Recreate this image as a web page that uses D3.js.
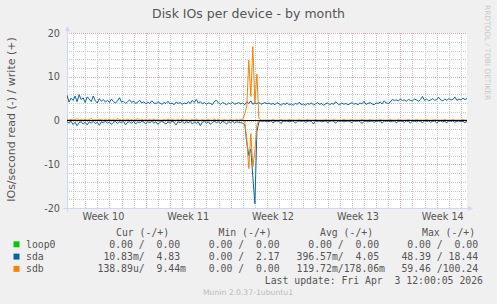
<!DOCTYPE html>
<html>
<head>
<meta charset="utf-8">
<script src="https://cdn.jsdelivr.net/npm/d3@7"></script>
<style>
body { margin: 0; background: #f0f0f0; }
svg { display: block; }
text { font-family: "DejaVu Sans", sans-serif; fill: #555; }
.mono { font-family: "DejaVu Sans Mono", monospace; font-size: 9.8px; white-space: pre; }
</style>
</head>
<body>
<div id="chart"></div>
<script>
// time range of the "month" graph (33 days), one sample every 4 hours
const startTime = Date.UTC(2026, 2, 1, 12);
const endTime = Date.UTC(2026, 3, 3, 12);
const stepHours = 4;

const yTicks = [-20, -10, 0, 10, 20];
const weekLabels = ["Week 10", "Week 11", "Week 12", "Week 13", "Week 14"];
const weekCenters = ["2026-03-04T12:00Z", "2026-03-11T12:00Z", "2026-03-18T12:00Z", "2026-03-25T12:00Z", "2026-04-01T12:00Z"];

// write (+) and read (-) rates, IOs/second
const sdaWrite = [
  5.8, 4.2, 5.1, 4.6, 5.6, 4.3, 5.9, 4.8, 5.2, 4.1, 5.4, 4.9, 4.3, 5.6, 4.5, 4.0, 5.0, 4.4, 4.8, 4.2,
  4.6, 4.1, 4.9, 4.3, 4.0, 4.5, 5.2, 4.2, 4.4, 3.9, 4.3, 4.7, 4.1, 4.4, 3.9, 4.2, 4.6, 4.0, 4.3, 3.8,
  4.2, 3.9, 4.5, 4.0, 3.8, 4.3, 4.0, 3.7, 4.1, 3.9, 4.4, 3.8, 4.0, 3.6, 4.2, 3.9, 4.1, 3.7, 4.0, 3.8,
  4.3, 3.9, 4.6, 4.1, 4.8, 4.0, 4.3, 3.8, 4.1, 3.7, 4.0, 3.9, 3.6, 4.4, 4.6, 4.0, 3.7, 4.1, 3.9, 3.6,
  4.0, 3.8, 4.2, 3.7, 3.9, 4.1, 3.8, 4.0, 3.6, 4.3, 3.9, 4.5, 3.7, 4.0, 3.8, 4.2, 3.7, 3.9, 4.1, 3.8,
  4.0, 3.7, 3.9, 3.6, 4.1, 3.8, 3.5, 3.9, 3.7, 4.0, 3.6, 3.8, 3.5, 3.9, 3.7, 4.2, 3.6, 3.8, 3.5, 3.9,
  3.7, 4.0, 3.6, 3.8, 4.1, 3.7, 3.9, 3.5, 3.8, 4.0, 3.6, 3.9, 3.7, 4.3, 3.8, 3.6, 4.0, 3.7, 3.9, 3.6,
  3.8, 4.1, 3.7, 3.9, 3.6, 4.0, 3.8, 4.4, 3.7, 3.9, 4.1, 3.8, 3.6, 4.0, 3.9, 4.2, 3.8, 4.5, 4.0, 3.9,
  4.2, 4.8, 4.6, 4.7, 4.5, 4.9, 4.6, 4.7, 4.4, 4.8, 4.6, 4.5, 4.9, 4.7, 4.4, 4.8, 5.5, 4.6, 4.9, 4.5,
  4.7, 5.0, 4.6, 4.8, 5.3, 4.7, 4.5, 4.9, 4.6, 5.0, 4.7, 4.8, 5.4, 4.6, 4.9, 4.7, 5.1, 4.8, 5.0
];
const sdaRead = [
  0.3, 0.6, 0.2, 0.9, 0.4, 1.2, 0.5, 0.3, 0.8, 0.4, 1.0, 0.3, 0.6, 0.2, 0.7, 0.4, 1.1, 0.3, 0.5, 0.2,
  0.6, 0.3, 0.9, 0.4, 0.2, 0.7, 0.3, 0.5, 0.2, 1.0, 0.4, 0.3, 0.6, 0.2, 0.8, 0.3, 0.5, 0.2, 0.4, 0.7,
  0.3, 0.5, 0.2, 0.6, 0.3, 0.9, 0.4, 0.2, 0.5, 0.8, 0.3, 0.6, 0.2, 0.4, 1.0, 0.3, 0.5, 0.2, 0.7, 0.3,
  0.5, 0.2, 0.8, 0.4, 0.6, 0.3, 1.2, 0.4, 0.2, 0.6, 0.3, 0.9, 0.4, 0.2, 0.5, 0.3, 0.7, 0.2, 0.4, 0.8,
  0.3, 0.5, 0.2, 0.6, 0.3, 0.4, 0.5, 0.6, 1.0, 5.0, 8.0, 6.5, 13.0, 19.0, 2.5, 0.3, 0.1, 0.2, 0.1, 0.3,
  0.2, 0.1, 0.5, 0.2, 0.1, 0.2, 0.7, 0.1, 0.2, 0.1, 0.3, 0.2, 0.1, 0.6, 0.2, 0.1, 0.2, 0.1, 0.4, 0.2,
  0.1, 0.2, 0.8, 0.1, 0.2, 0.1, 0.3, 0.2, 0.1, 0.5, 0.2, 0.1, 0.2, 0.6, 0.1, 0.2, 0.1, 0.3, 0.2, 0.1,
  0.2, 0.5, 0.1, 0.2, 0.1, 0.2, 0.7, 0.2, 0.1, 0.3, 0.2, 0.1, 0.4, 0.2, 0.1, 0.2, 0.6, 0.1, 0.2, 0.1,
  0.3, 0.2, 0.1, 0.5, 0.2, 0.1, 0.2, 0.4, 0.1, 0.2, 0.6, 0.1, 0.2, 0.3, 0.1, 0.2, 0.5, 0.1, 0.2, 0.1,
  0.4, 0.2, 0.1, 0.6, 0.2, 0.1, 0.3, 0.2, 0.5, 0.1, 0.2, 0.1, 0.4, 0.2, 0.1, 0.3, 0.2, 0.5, 0.2
];
const sdbWrite = [
  0.2, 0.1, 0.3, 0.1, 0.2, 0.4, 0.1, 0.2, 0.1, 0.3, 0.1, 0.2, 0.5, 0.1, 0.2, 0.1, 0.3, 0.2, 0.1, 0.2,
  0.1, 0.3, 0.1, 0.2, 0.1, 0.4, 0.2, 0.1, 0.2, 0.1, 0.3, 0.1, 0.2, 0.1, 0.2, 0.4, 0.1, 0.2, 0.1, 0.2,
  0.1, 0.2, 0.1, 0.3, 0.1, 0.2, 0.1, 0.1, 0.2, 0.1, 0.3, 0.1, 0.2, 0.1, 0.1, 0.2, 0.1, 0.3, 0.1, 0.2,
  0.1, 0.1, 0.2, 0.1, 0.3, 0.1, 0.1, 0.2, 0.1, 0.1, 0.2, 0.1, 0.1, 0.3, 0.1, 0.2, 0.1, 0.1, 0.2, 0.1,
  0.1, 0.2, 0.1, 0.1, 0.2, 0.1, 0.2, 0.3, 1.5, 3.3, 13.8, 5.5, 16.9, 4.0, 10.6, 0.5, 0.1, 0.1, 0.1, 0.1,
  0.1, 0.1, 0.2, 0.1, 0.1, 0.1, 0.2, 0.1, 0.1, 0.1, 0.2, 0.1, 0.1, 0.1, 0.1, 0.2, 0.1, 0.1, 0.1, 0.2,
  0.1, 0.1, 0.1, 0.2, 0.1, 0.1, 0.1, 0.1, 0.2, 0.1, 0.1, 0.1, 0.2, 0.1, 0.1, 0.1, 0.1, 0.2, 0.1, 0.1,
  0.1, 0.2, 0.1, 0.1, 0.1, 0.1, 0.2, 0.1, 0.1, 0.1, 0.2, 0.1, 0.1, 0.1, 0.1, 0.2, 0.1, 0.1, 0.1, 0.1,
  0.2, 0.1, 0.1, 0.1, 0.2, 0.1, 0.1, 0.1, 0.1, 0.2, 0.1, 0.1, 0.1, 0.2, 0.1, 0.1, 0.1, 0.1, 0.2, 0.1,
  0.1, 0.1, 0.2, 0.1, 0.1, 0.1, 0.1, 0.2, 0.1, 0.1, 0.1, 0.2, 0.1, 0.1, 0.1, 0.1, 0.2, 0.1, 0.1
];
const sdbRead = [
  0, 0, 0, 0, 0, 0, 0, 0, 0, 0, 0, 0, 0, 0, 0, 0, 0, 0, 0, 0,
  0, 0, 0, 0, 0, 0, 0, 0, 0, 0, 0, 0, 0, 0, 0, 0, 0, 0, 0, 0,
  0, 0, 0, 0, 0, 0, 0, 0, 0, 0, 0, 0, 0, 0, 0, 0, 0, 0, 0, 0,
  0, 0, 0, 0, 0, 0, 0, 0, 0, 0, 0, 0, 0, 0, 0, 0, 0, 0, 0, 0,
  0, 0, 0, 0, 0, 0, 0, 0, 0.3, 4.5, 11.0, 3.0, 10.6, 7.0, 1.0, 0.1, 0, 0, 0, 0,
  0, 0, 0, 0, 0, 0, 0, 0, 0, 0, 0, 0, 0, 0, 0, 0, 0, 0, 0, 0,
  0, 0, 0, 0, 0, 0, 0, 0, 0, 0, 0, 0, 0, 0, 0, 0, 0, 0, 0, 0,
  0, 0, 0, 0, 0, 0, 0, 0, 0, 0, 0, 0, 0, 0, 0, 0, 0, 0, 0, 0,
  0, 0, 0, 0, 0, 0, 0, 0, 0, 0, 0, 0, 0, 0, 0, 0, 0, 0, 0, 0,
  0, 0, 0, 0, 0, 0, 0, 0, 0, 0, 0, 0, 0, 0, 0, 0, 0, 0, 0
];
// loop0 reads and writes are zero throughout
const loop0 = [
  0, 0, 0, 0, 0, 0, 0, 0, 0, 0, 0, 0, 0, 0, 0, 0, 0, 0, 0, 0,
  0, 0, 0, 0, 0, 0, 0, 0, 0, 0, 0, 0, 0, 0, 0, 0, 0, 0, 0, 0,
  0, 0, 0, 0, 0, 0, 0, 0, 0, 0, 0, 0, 0, 0, 0, 0, 0, 0, 0, 0,
  0, 0, 0, 0, 0, 0, 0, 0, 0, 0, 0, 0, 0, 0, 0, 0, 0, 0, 0, 0,
  0, 0, 0, 0, 0, 0, 0, 0, 0, 0, 0, 0, 0, 0, 0, 0, 0, 0, 0, 0,
  0, 0, 0, 0, 0, 0, 0, 0, 0, 0, 0, 0, 0, 0, 0, 0, 0, 0, 0, 0,
  0, 0, 0, 0, 0, 0, 0, 0, 0, 0, 0, 0, 0, 0, 0, 0, 0, 0, 0, 0,
  0, 0, 0, 0, 0, 0, 0, 0, 0, 0, 0, 0, 0, 0, 0, 0, 0, 0, 0, 0,
  0, 0, 0, 0, 0, 0, 0, 0, 0, 0, 0, 0, 0, 0, 0, 0, 0, 0, 0, 0,
  0, 0, 0, 0, 0, 0, 0, 0, 0, 0, 0, 0, 0, 0, 0, 0, 0, 0, 0
];

// legend
const devices = ["loop0", "sda", "sdb"];
const deviceColors = ["#00cc00", "#0066b3", "#ff8000"];
const colHeads = ["Cur (-/+)", "Min (-/+)", "Avg (-/+)", "Max (-/+)"];
const curText = ["  0.00 /  0.00 ", " 10.83m/  4.83 ", "138.89u/  9.44m"];
const minText = ["  0.00 /  0.00 ", "  0.00 /  2.17 ", "  0.00 /  0.00 "];
const avgText = ["  0.00 /  0.00 ", "396.57m/  4.05 ", "119.72m/178.06m"];
const maxText = ["  0.00 /  0.00 ", " 48.39 / 18.44 ", " 59.46 /100.24 "];
const lastUpdate = "Last update: Fri Apr  3 12:00:05 2026";

const width = 497, height = 304;
const plotLeft = 67, plotRight = 467, plotTop = 33, plotBottom = 208;

const svg = d3.select('#chart').append('svg')
    .attr('width', width)
    .attr('height', height);

svg.append('rect').attr('width', width).attr('height', height).attr('fill', '#f0f0f0');
svg.append('rect')
    .attr('x', plotLeft).attr('y', plotTop)
    .attr('width', plotRight - plotLeft).attr('height', plotBottom - plotTop)
    .attr('fill', '#ffffff');

const x = d3.scaleUtc().domain([startTime, endTime]).range([plotLeft, plotRight]);
const y = d3.scaleLinear().domain([-20, 20]).range([plotBottom, plotTop]);

const times = sdaWrite.map((d, i) => new Date(startTime + i * stepHours * 3600e3));

// grid
const grid = svg.append('g');
const minorY = y.ticks(20).filter(v => !yTicks.includes(v));
grid.selectAll('.hmin').data(minorY).enter().append('line')
    .attr('x1', plotLeft).attr('x2', plotRight)
    .attr('y1', d => Math.round(y(d)) + 0.5).attr('y2', d => Math.round(y(d)) + 0.5)
    .attr('stroke', '#c8c8c8').attr('stroke-dasharray', '1,1');
const days = d3.utcDay.range(new Date(startTime), new Date(endTime));
const sundays = d3.utcSunday.range(new Date(startTime), new Date(endTime));
const minorX = days.filter(d => d.getUTCDay() !== 0);
grid.selectAll('.vmin').data(minorX).enter().append('line')
    .attr('y1', plotTop).attr('y2', plotBottom)
    .attr('x1', d => Math.round(x(d)) + 0.5).attr('x2', d => Math.round(x(d)) + 0.5)
    .attr('stroke', '#c8c8c8').attr('stroke-dasharray', '1,1');
grid.selectAll('.hmaj').data(yTicks).enter().append('line')
    .attr('x1', plotLeft).attr('x2', plotRight)
    .attr('y1', d => Math.round(y(d)) + 0.5).attr('y2', d => Math.round(y(d)) + 0.5)
    .attr('stroke', '#eca0a0').attr('stroke-dasharray', '1,1');
grid.selectAll('.vmaj').data(sundays).enter().append('line')
    .attr('y1', plotTop).attr('y2', plotBottom)
    .attr('x1', d => Math.round(x(d)) + 0.5).attr('x2', d => Math.round(x(d)) + 0.5)
    .attr('stroke', '#eca0a0').attr('stroke-dasharray', '1,1');

// axes
const axisColor = '#cfd6f8';
svg.append('line')
    .attr('x1', plotLeft - 4).attr('x2', plotRight + 2)
    .attr('y1', plotBottom + 0.5).attr('y2', plotBottom + 0.5)
    .attr('stroke', axisColor);
svg.append('path')
    .attr('d', `M${plotRight + 6},${plotBottom + 0.5} L${plotRight + 1},${plotBottom - 2} L${plotRight + 1},${plotBottom + 3} Z`)
    .attr('fill', axisColor);
svg.append('line')
    .attr('x1', plotLeft + 0.5).attr('x2', plotLeft + 0.5)
    .attr('y1', plotBottom + 4).attr('y2', plotTop - 2)
    .attr('stroke', axisColor);
svg.append('path')
    .attr('d', `M${plotLeft + 0.5},${plotTop - 7} L${plotLeft - 2},${plotTop - 2} L${plotLeft + 3},${plotTop - 2} Z`)
    .attr('fill', axisColor);

// series
svg.append('clipPath').attr('id', 'plotclip')
    .append('rect').attr('x', plotLeft).attr('y', plotTop - 1)
    .attr('width', plotRight - plotLeft).attr('height', plotBottom - plotTop + 2);

const line = d3.line()
    .x((d, i) => x(times[i]))
    .y(d => y(d));

const series = [
  { write: loop0, read: loop0, color: deviceColors[0] },
  { write: sdaWrite, read: sdaRead, color: deviceColors[1] },
  { write: sdbWrite, read: sdbRead, color: deviceColors[2] }
];
const plotG = svg.append('g').attr('clip-path', 'url(#plotclip)');
series.forEach(s => {
    plotG.append('path')
        .attr('d', line(s.read.map(v => -v)))
        .attr('fill', 'none').attr('stroke', s.color).attr('stroke-width', 1);
    plotG.append('path')
        .attr('d', line(s.write))
        .attr('fill', 'none').attr('stroke', s.color).attr('stroke-width', 1);
});
plotG.append('line')
    .attr('x1', plotLeft).attr('x2', plotRight)
    .attr('y1', y(0)).attr('y2', y(0))
    .attr('stroke', '#000').attr('stroke-width', 1.2);

// tick labels
svg.selectAll('.ylab').data(yTicks).enter().append('text')
    .attr('x', 60).attr('y', d => y(d) + 3.5)
    .attr('text-anchor', 'end')
    .style('font-size', '9.7px')
    .text(d => d);
svg.selectAll('.xlab').data(weekLabels).enter().append('text')
    .attr('x', (d, i) => x(new Date(weekCenters[i])))
    .attr('y', 220)
    .attr('text-anchor', 'middle')
    .style('font-size', '9.7px')
    .text(d => d);

// titles
svg.append('text')
    .attr('x', 248.5).attr('y', 17.5)
    .attr('text-anchor', 'middle')
    .style('font-size', '12.5px')
    .text('Disk IOs per device - by month');
svg.append('text')
    .attr('transform', `translate(14.5, ${y(0) - 1}) rotate(-90)`)
    .attr('text-anchor', 'middle')
    .style('font-size', '11px')
    .text('IOs/second read (-) / write (+)');
svg.append('text')
    .attr('transform', 'translate(484.5, 5) rotate(90)')
    .style('font-size', '7.4px')
    .style('fill', '#c8c8c8')
    .text('RRDTOOL / TOBI OETIKER');

// legend
const headX = [116, 218.5, 320, 422];
const colEnd = [186, 285.5, 385, 484];
const rowY = [247.8, 260.1, 272.4];
svg.selectAll('.head').data(colHeads).enter().append('text')
    .attr('class', 'mono')
    .attr('x', (d, i) => headX[i]).attr('y', 235.5)
    .text(d => d);
devices.forEach((dev, r) => {
    svg.append('rect')
        .attr('x', 13.5).attr('y', rowY[r] - 6.5)
        .attr('width', 6).attr('height', 6)
        .attr('fill', deviceColors[r]);
    svg.append('text').attr('class', 'mono')
        .attr('x', 26).attr('y', rowY[r])
        .text(dev);
    [curText, minText, avgText, maxText].forEach((col, c) => {
        svg.append('text').attr('class', 'mono')
            .attr('x', colEnd[c]).attr('y', rowY[r])
            .attr('text-anchor', 'end')
            .text(col[r]);
    });
});
svg.append('text').attr('class', 'mono')
    .attr('x', 483).attr('y', 284)
    .attr('text-anchor', 'end')
    .text(lastUpdate);
svg.append('text')
    .attr('x', 248).attr('y', 295)
    .attr('text-anchor', 'middle')
    .style('font-size', '7.7px')
    .style('fill', '#bbbbbb')
    .text('Munin 2.0.37-1ubuntu1');
</script>
</body>
</html>
